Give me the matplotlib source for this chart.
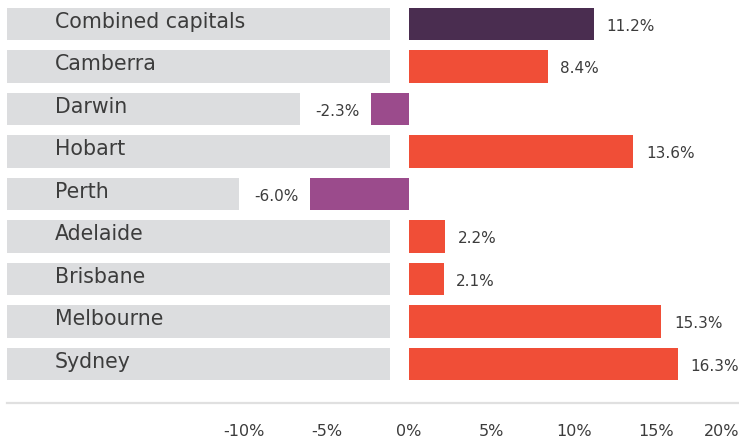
import numpy as np
import matplotlib
matplotlib.use("Agg")
import matplotlib.pyplot as plt
import matplotlib.transforms as mtransforms

cities = ["Combined capitals", "Camberra", "Darwin", "Hobart", "Perth",
          "Adelaide", "Brisbane", "Melbourne", "Sydney"]
change = [11.2, 8.4, -2.3, 13.6, -6.0, 2.2, 2.1, 15.3, 16.3]
tick_vals = [-10, -5, 0, 5, 10, 15, 20]

DARK = "#4a2d50"
RED = "#f04e37"
PURPLE = "#9b4b8c"
GREY = "#dcdddf"
TEXT = "#3c3c3c"

plt.rcParams["font.family"] = ["DejaVu Sans"]

W, H = 739, 441
fig = plt.figure(figsize=(W / 100, H / 100), dpi=100)

px = 16.5          # pixels per percent
zero = 409         # pixel position of 0%
left_px = 7
ax = fig.add_axes([left_px / W, (H - 403) / H, 1 - left_px / W, 403 / H])
ax.set_xlim((left_px - zero) / px, (W - zero) / px)
ax.set_ylim(8.918, -0.565)

vals = np.array(change)
y = np.arange(len(cities))

colors = [DARK] + [RED if v >= 0 else PURPLE for v in vals[1:]]

# grey label panels behind the city names
grey_end = np.where(vals < 0, vals - 4.3, -1.15)
x0 = (left_px - zero) / px
ax.barh(y, grey_end - x0, left=x0, height=0.755, color=GREY, linewidth=0)

ax.barh(y, vals, height=0.755, color=colors, linewidth=0)

tr = mtransforms.blended_transform_factory(ax.transAxes, ax.transData)
for yi, name in zip(y, cities):
    ax.annotate(name, (0.0656, yi), xycoords=tr, xytext=(0, 1.5),
                textcoords="offset points", va="center", ha="left",
                fontsize=14.8, color=TEXT)

for yi, v in zip(y, vals):
    if v >= 0:
        ax.annotate(f"{v:.1f}%", (v, yi), xytext=(9, -1.5),
                    textcoords="offset points", va="center", ha="left",
                    fontsize=11, color=TEXT)
    else:
        ax.annotate(f"{v:.1f}%", (v, yi), xytext=(-8.5, -1.5),
                    textcoords="offset points", va="center", ha="right",
                    fontsize=11, color=TEXT)

ax.set_xticks(tick_vals)
ax.set_xticklabels([f"{t}%" for t in tick_vals])
ax.tick_params(axis="x", length=0, pad=15, labelsize=11.5, labelcolor=TEXT)
# last label sits at the right edge, keep it inside the figure
ax.get_xticklabels()[-1].set_horizontalalignment("right")
ax.set_yticks([])
for s in ["top", "left", "right"]:
    ax.spines[s].set_visible(False)
ax.spines["bottom"].set_color("#e0e0e0")
ax.spines["bottom"].set_linewidth(1.6)

fig.savefig("out.png", dpi=100)
